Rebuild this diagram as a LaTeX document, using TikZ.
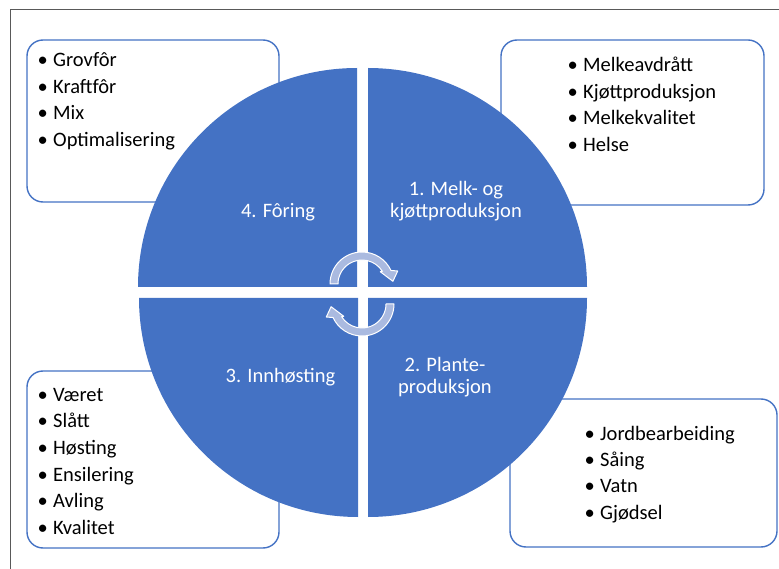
\documentclass[tikz,border=0pt]{standalone}
\usepackage{fontspec}
\setmainfont{Carlito}
\definecolor{cycblue}{RGB}{68,114,196}
\definecolor{arrowblue}{RGB}{170,186,224}
\definecolor{framegray}{RGB}{89,89,89}
\newcommand{\bul}{\makebox[15.5pt][l]{•}}
\begin{document}
\begin{tikzpicture}[x=1pt,y=1pt,line cap=butt,line join=miter,
		listbox/.style={draw=cycblue,line width=1.4pt,rounded corners=16pt,fill=white},
		quad/.style={fill=cycblue},
		cyc/.style={fill=arrowblue,draw=white,line width=1pt,line join=round},
		item/.style={anchor=base west,inner sep=0pt,font=\fontsize{20.5}{26.5}\selectfont},
		lbl/.style={align=center,text=white,inner sep=0pt,font=\fontsize{20.5}{22.5}\selectfont}]
	\useasboundingbox (0,0) rectangle (779,-569);
	\draw[framegray,line width=1pt] (10,-569)--(10,-10)--(779,-10);
	
	% the four lists
	\draw[listbox] (27,-40) rectangle (279,-202);
	\draw[listbox] (501,-40) rectangle (764,-205);
	\draw[listbox] (27,-371) rectangle (279,-548);
	\draw[listbox] (510,-399) rectangle (777,-547);
	\foreach \t [count=\i] in {Grovfôr,Kraftfôr,Mix,Optimalisering}
		\node[item] (feed\i) at (37.5,{-67-26.5*(\i-1)}) {\bul\t};
	\foreach \t [count=\i] in {Melkeavdrått,Kjøttproduksjon,Melkekvalitet,Helse}
		\node[item] (milk\i) at (567.5,{-72-26.5*(\i-1)}) {\bul\t};
	\foreach \t [count=\i] in {Været,Slått,Høsting,Ensilering,Avling,Kvalitet}
		\node[item] (harv\i) at (37.5,{-401-26.7*(\i-1)}) {\bul\t};
	\foreach \t [count=\i] in {Jordbearbeiding,Såing,Vatn,Gjødsel}
		\node[item] (plant\i) at (584.5,{-440-26.4*(\i-1)}) {\bul\t};
	
	% split circle
	\foreach \cx/\cy/\a in {357/287/90,368/287/0,368/298/-90,358/298/180}
		\fill[quad] (\cx,-\cy) -- ++(\a:219) arc[start angle=\a,delta angle=90,radius=219] -- cycle;
	
	\node[lbl,anchor=base] (foring) at (278,-218) {4. Fôring};
	\node[lbl] (melk) at (456,-201) {1. Melk- og\\kjøttproduksjon};
	\node[lbl] (plante) at (445,-377) {2. Plante-\\produksjon};
	\node[lbl,anchor=base] (innhost) at (280.5,-382) {3. Innhøsting};
	
	% cycle arrows in the middle
	\foreach \cy/\r in {284/0,304/180}
		\fill[cyc,shift={(362,-\cy)},rotate=\r] (180:32) arc[start angle=180,end angle=25,radius=32]
			-- (20:38) -- (5:31) -- (34:22) -- (32:24) arc[start angle=32,end angle=180,radius=24] -- cycle;
\end{tikzpicture}
\end{document}
